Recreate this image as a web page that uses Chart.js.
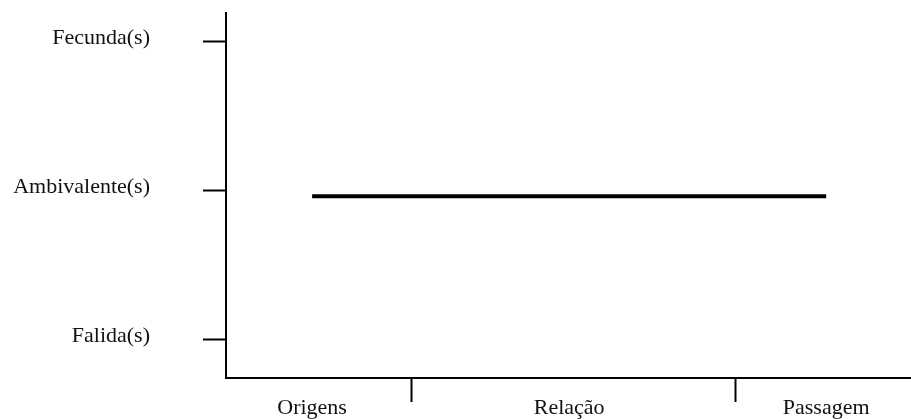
<!DOCTYPE html>
<html>
<head>
<meta charset="utf-8">
<script src="https://cdn.jsdelivr.net/npm/chart.js@4"></script>
<style>
  html, body { margin: 0; padding: 0; background: #fff; }
</style>
</head>
<body>
<canvas id="chart" width="911" height="419"></canvas>
<script>
// stages on the x axis and their positions
const stages = ['Origens', 'Relação', 'Passagem'];
const stagePos = [0, 1, 2];
// hand drawn dividers between stages (x units)
const dividers = [0.385, 1.646];
// levels on the y axis
const levels = ['Falida(s)', 'Ambivalente(s)', 'Fecunda(s)'];
const levelPos = [0, 1, 2];
// the single line: from Origens to Passagem, at Ambivalente
const lineX = [0, 2];
const lineY = [0.96, 0.96];

const font = { family: '"Liberation Serif", "Times New Roman", serif', size: 22, lineHeight: 1 };

const ctx = document.getElementById('chart').getContext('2d');
new Chart(ctx, {
  type: 'line',
  data: {
    datasets: [{
      data: lineX.map((x, i) => ({ x: x, y: lineY[i] })),
      borderColor: '#000',
      borderWidth: 4,
      borderCapStyle: 'butt',
      pointRadius: 0,
      fill: false,
      tension: 0
    }]
  },
  options: {
    responsive: false,
    animation: false,
    layout: { padding: { top: 13, right: 0, left: 0, bottom: 0 } },
    plugins: { legend: { display: false }, tooltip: { enabled: false } },
    scales: {
      x: {
        type: 'linear',
        min: -0.335,
        max: 2.33,
        afterBuildTicks: (scale) => {
          const vals = stagePos.concat(dividers).sort((a, b) => a - b);
          scale.ticks = vals.map(v => ({ value: v }));
        },
        afterFit: (scale) => {
          scale.height = 41;
          scale.paddingLeft = 0;
          scale.paddingRight = 0;
        },
        border: { display: true, color: '#000', width: 2 },
        grid: {
          drawOnChartArea: false,
          drawTicks: true,
          tickLength: 24,
          tickWidth: 2,
          tickColor: (c) => dividers.includes(c.tick && c.tick.value) ? '#000' : 'rgba(0,0,0,0)'
        },
        ticks: {
          autoSkip: false,
          maxRotation: 0,
          padding: -5,
          color: '#111',
          font: font,
          callback: (v) => {
            const i = stagePos.indexOf(v);
            return i >= 0 ? stages[i] : '';
          }
        }
      },
      y: {
        type: 'linear',
        min: -0.26,
        max: 2.19,
        afterBuildTicks: (scale) => {
          scale.ticks = levelPos.map(v => ({ value: v }));
        },
        afterFit: (scale) => {
          scale.width = 226;
          scale.paddingTop = 0;
          scale.paddingBottom = 0;
        },
        border: { display: true, color: '#000', width: 2 },
        grid: {
          drawOnChartArea: false,
          drawTicks: true,
          tickLength: 23,
          tickWidth: 2,
          tickColor: '#000'
        },
        ticks: {
          padding: 53,
          labelOffset: -3,
          color: '#111',
          font: font,
          callback: (v) => {
            const i = levelPos.indexOf(v);
            return i >= 0 ? levels[i] : '';
          }
        }
      }
    }
  }
});
</script>
</body>
</html>
